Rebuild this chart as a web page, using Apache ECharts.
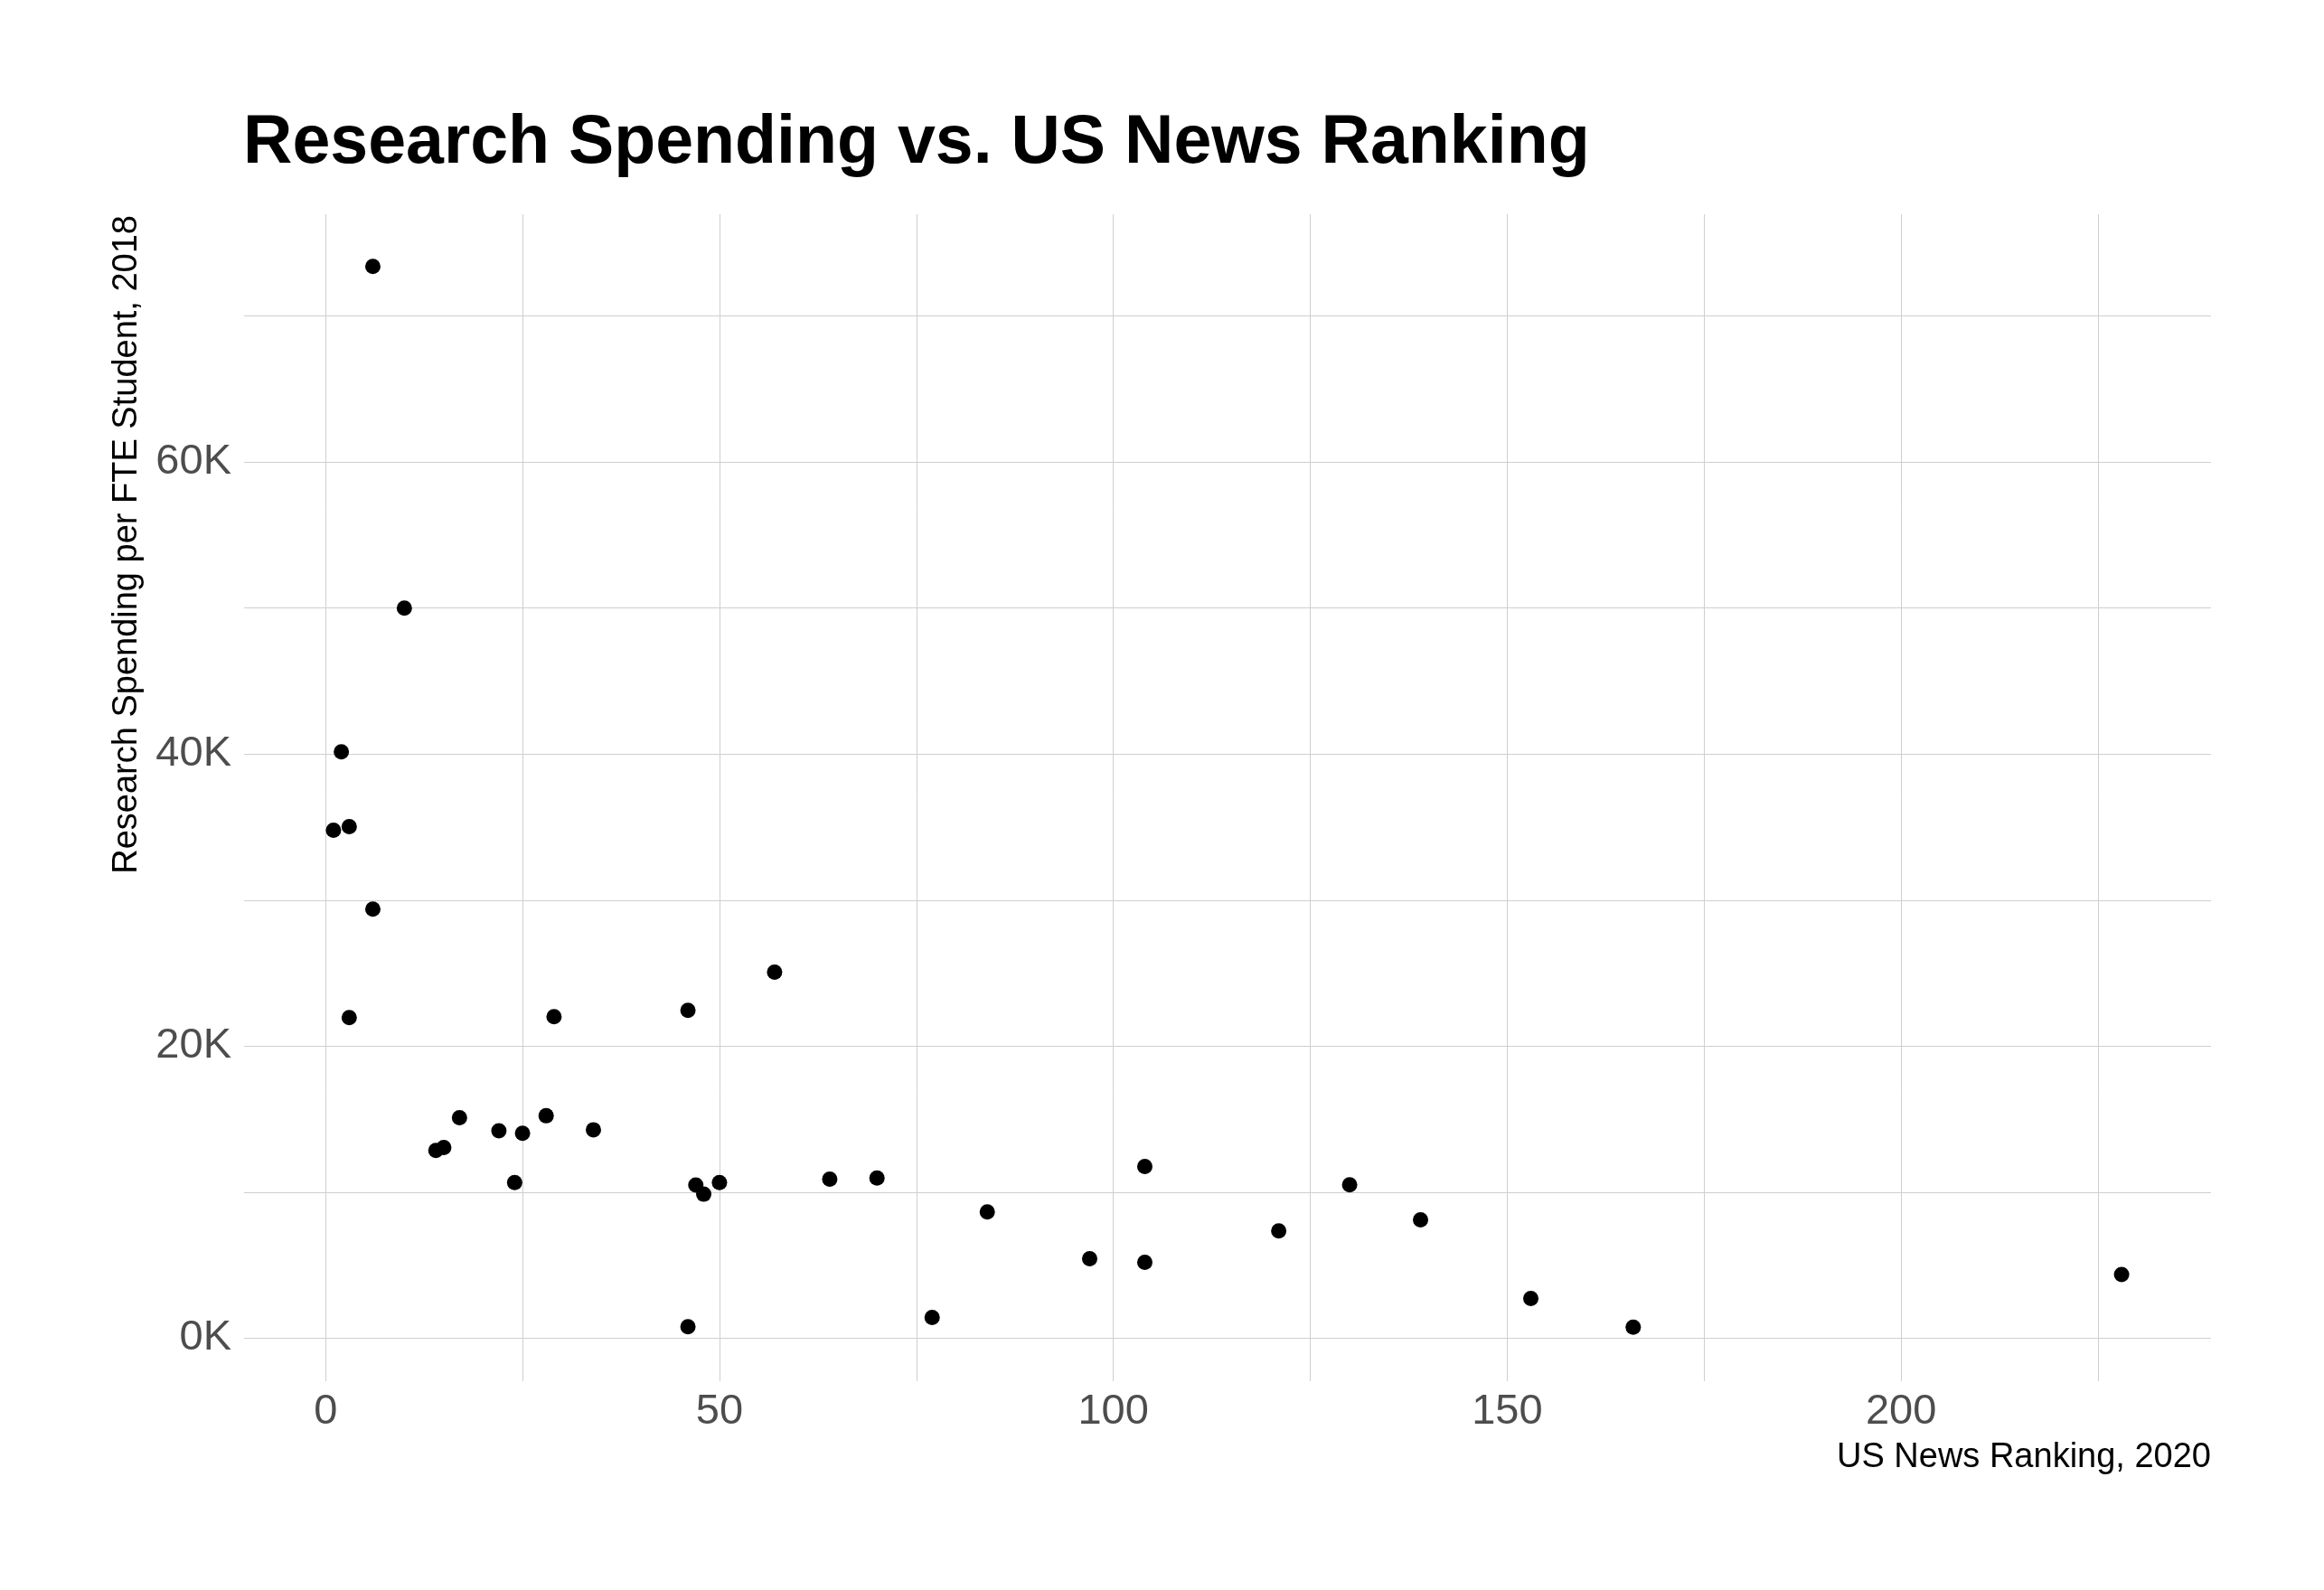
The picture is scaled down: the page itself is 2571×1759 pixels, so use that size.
<!DOCTYPE html>
<html>
<head>
<meta charset="utf-8">
<script src="https://cdn.jsdelivr.net/npm/echarts@6/dist/echarts.min.js"></script>
<style>
html,body{margin:0;padding:0;background:#fff;}
#chart{width:2571px;height:1759px;}
</style>
</head>
<body>
<div id="chart"></div>
<script>
// US News Ranking, 2020
const ranking = [6, 10, 2, 1, 3, 6, 3, 29, 46, 57, 17, 22, 25, 28, 34, 14, 15, 24, 47, 48, 50, 64, 70, 46, 77, 84, 97, 104, 104, 121, 130, 139, 153, 166, 228];
// Research Spending per FTE Student, 2018
const spending = [73400, 50000, 40150, 34780, 35030, 29380, 21960, 22010, 22450, 25070, 15100, 14200, 14030, 15230, 14270, 12860, 13050, 10650, 10480, 9860, 10650, 10890, 10970, 780, 1420, 8640, 5440, 11750, 5190, 7340, 10500, 8100, 2720, 750, 4360];

const xTickLabels = [0, 50, 100, 150, 200];
const xGridValues = [0, 25, 50, 75, 100, 125, 150, 175, 200, 225];
const yTickLabels = [0, 20000, 40000, 60000];
const yGridValues = [0, 10000, 20000, 30000, 40000, 50000, 60000, 70000];

const titleText = 'Research Spending vs. US News Ranking';
const xTitle = 'US News Ranking, 2020';
const yTitle = 'Research Spending per FTE Student, 2018';

const points = ranking.map((r, i) => [r, spending[i]]);

const chart = echarts.init(document.getElementById('chart'), null, {renderer: 'canvas'});
const FONT = 'Liberation Sans, Arial, sans-serif';
const gridColor = '#cfcfcf';

chart.setOption({
  backgroundColor: '#ffffff',
  animation: false,
  title: {
    text: titleText,
    left: 269,
    top: 122,
    padding: 0,
    textStyle: {fontFamily: FONT, fontSize: 75.3, fontWeight: 'bold', color: '#000000'}
  },
  grid: {left: 270, right: 125, top: 237, bottom: 231, containLabel: false},
  xAxis: {
    type: 'value',
    min: -10.35,
    max: 239.35,
    axisLine: {show: false, onZero: false},
    axisTick: {show: false, customValues: xGridValues},
    axisLabel: {
      customValues: xTickLabels,
      margin: 11,
      fontFamily: FONT,
      fontSize: 47,
      color: '#4d4d4d',
      formatter: v => String(v)
    },
    splitLine: {show: true, lineStyle: {color: gridColor, width: 1}}
  },
  yAxis: {
    type: 'value',
    min: -2947,
    max: 76972,
    axisLine: {show: false, onZero: false},
    axisTick: {show: false, customValues: yGridValues},
    axisLabel: {
      customValues: yTickLabels,
      margin: 14,
      fontFamily: FONT,
      fontSize: 47,
      color: '#4d4d4d',
      formatter: v => (v / 1000) + 'K'
    },
    splitLine: {show: true, lineStyle: {color: gridColor, width: 1}}
  },
  graphic: [
    {
      type: 'text',
      x: 2446,
      y: 1613,
      style: {text: xTitle, align: 'right', verticalAlign: 'middle', fontFamily: FONT, fontSize: 38, fill: '#000000'}
    },
    {
      type: 'text',
      x: 141,
      y: 238,
      rotation: Math.PI / 2,
      style: {text: yTitle, align: 'right', verticalAlign: 'middle', fontFamily: FONT, fontSize: 38, fill: '#000000'}
    }
  ],
  series: [{
    type: 'scatter',
    data: points,
    symbol: 'circle',
    symbolSize: 17,
    itemStyle: {color: '#000000', opacity: 1},
    emphasis: {disabled: true}
  }]
});
</script>
</body>
</html>
